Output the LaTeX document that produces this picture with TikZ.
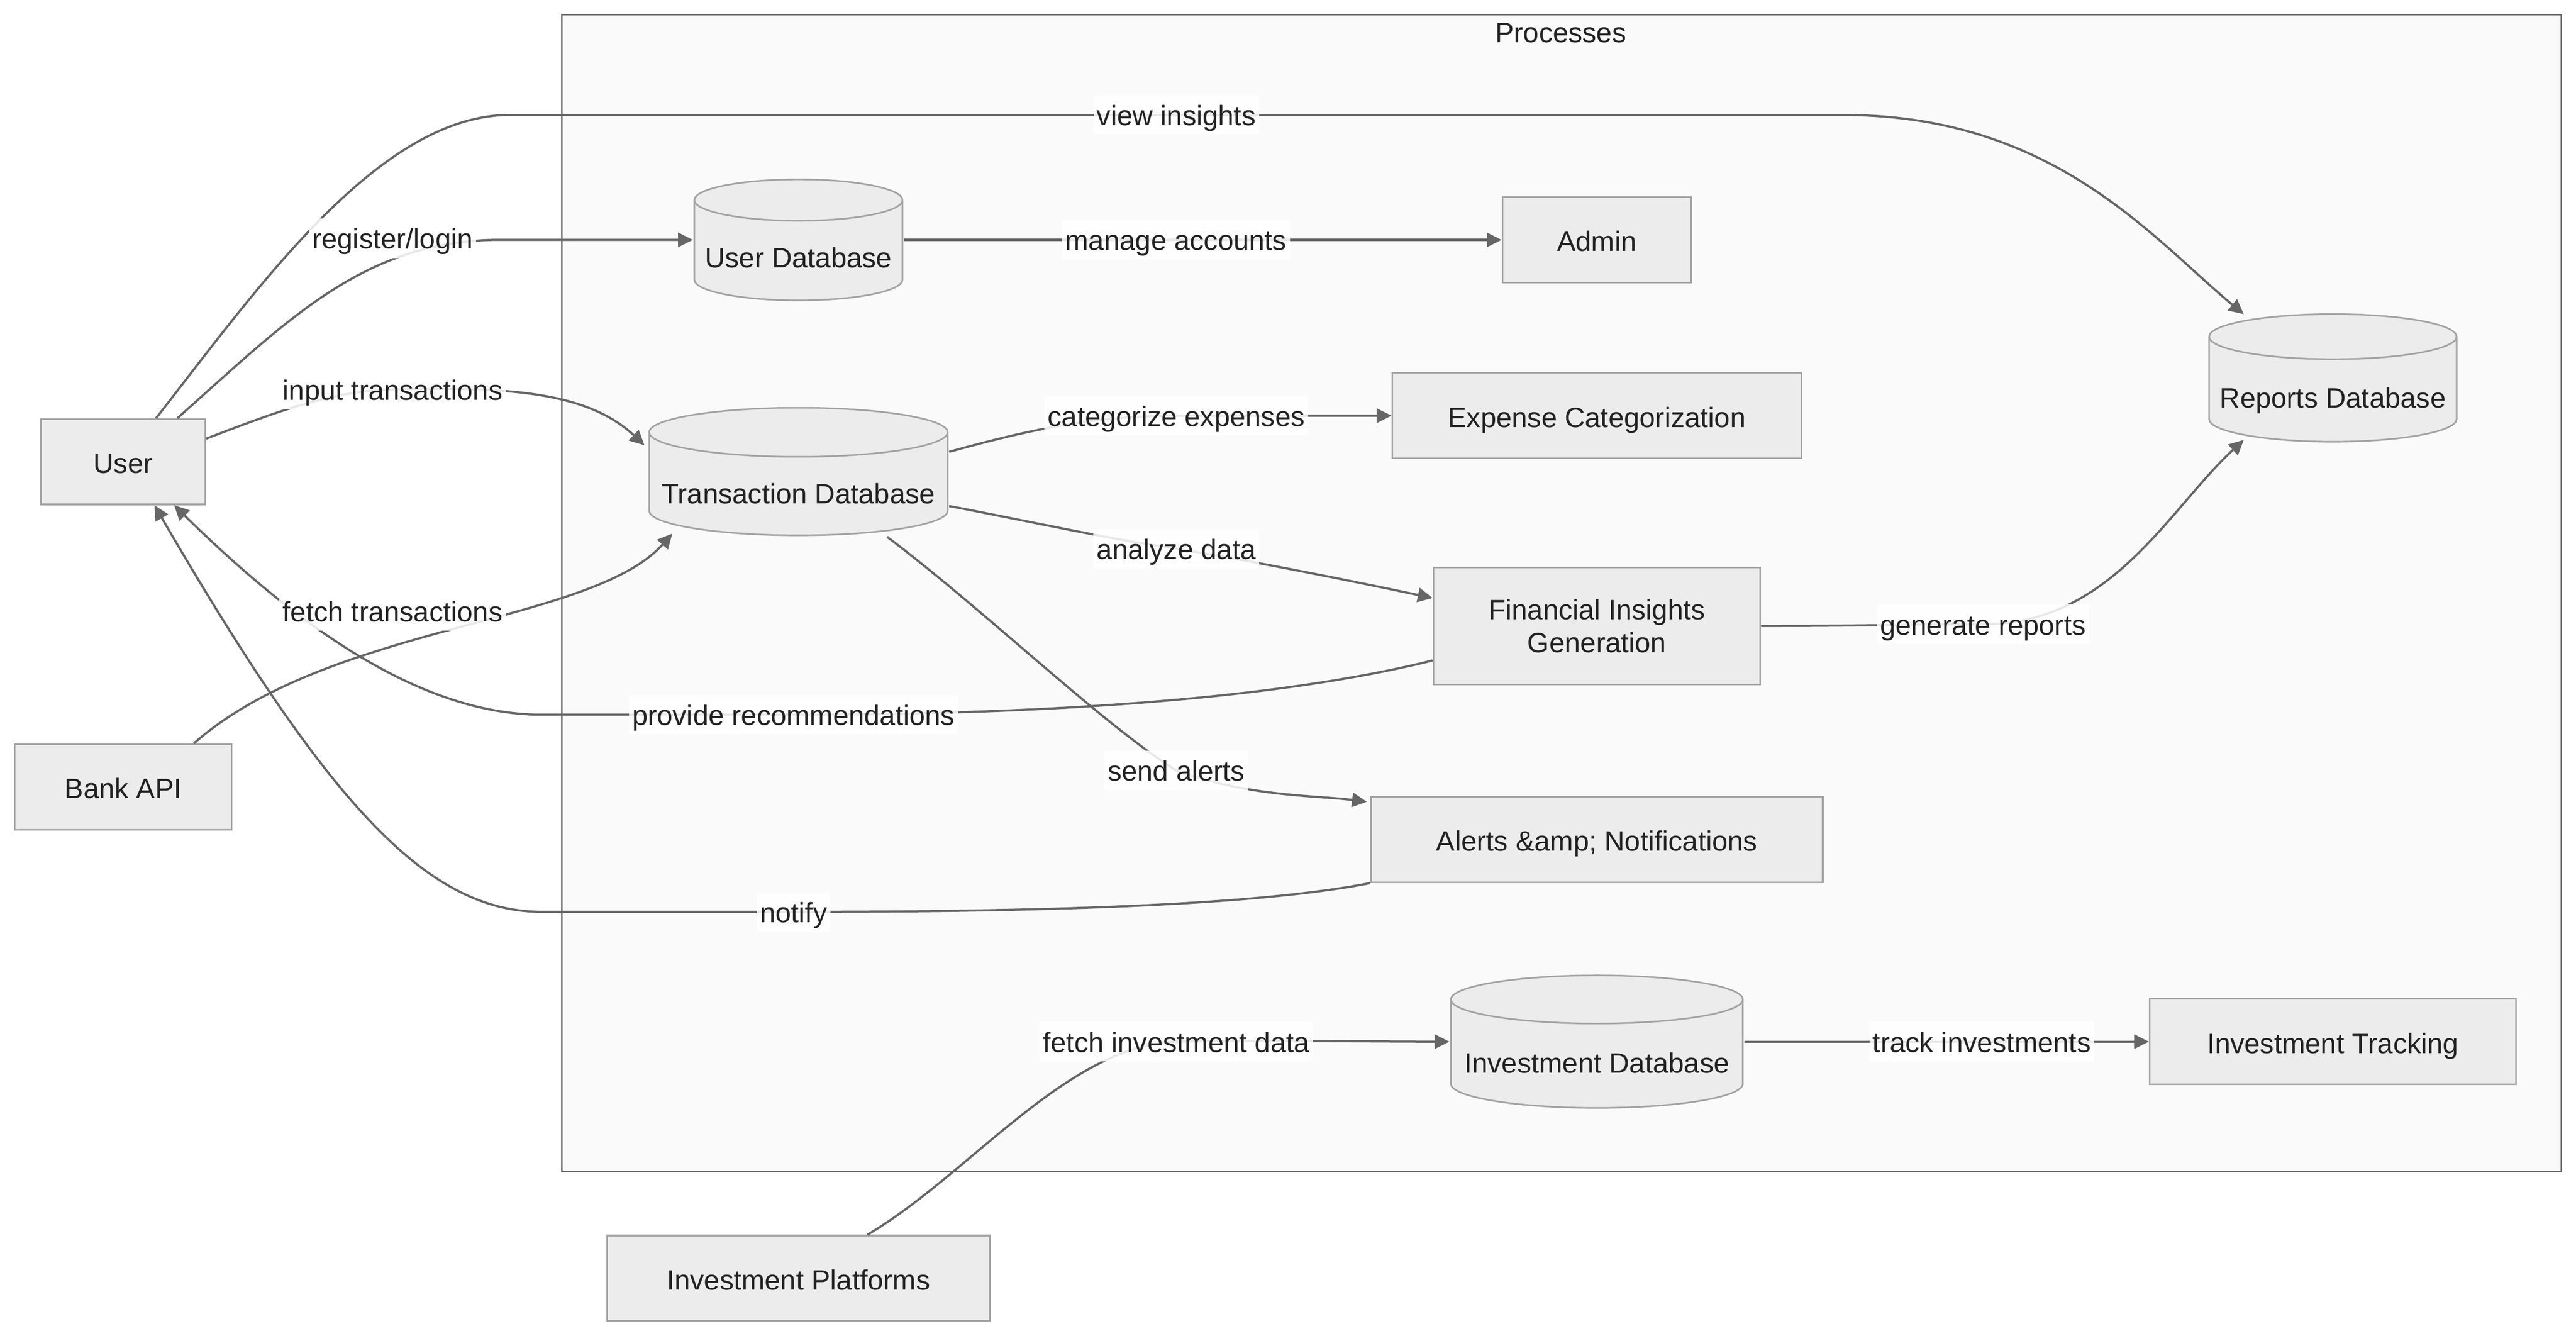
\documentclass[tikz,border=0pt]{standalone}
\usepackage{fontspec}
\setmainfont{Liberation Sans}
\usetikzlibrary{positioning,arrows.meta,calc}

\definecolor{boxfill}{HTML}{ECECEC}
\definecolor{boxline}{HTML}{A3A3A3}
\definecolor{edgeline}{HTML}{666666}
\definecolor{groupfill}{HTML}{FAFAFA}
\definecolor{groupline}{HTML}{6E6E6E}
\definecolor{txt}{HTML}{222222}

\begin{document}
\begin{tikzpicture}[x=0.75pt,y=-0.75pt,on grid,font=\fontsize{12.8pt}{15pt}\selectfont,
    boxbase/.style={draw=boxline,fill=boxfill,line width=0.75pt,minimum height=39pt,text=txt},
    box/.style={boxbase,text height=11pt,text depth=0.5pt},
    db/.style={text=txt,text depth=2.7pt,path picture={
        \filldraw[fill=boxfill,draw=boxline,line width=0.75pt]
          let \p1=(path picture bounding box.south west),
              \p2=(path picture bounding box.north east) in
          (\x1+0.5pt,\y2-#1-0.5pt) -- (\x1+0.5pt,\y1+#1+0.5pt)
          arc[start angle=180,end angle=360,x radius={(\x2-\x1)/2-0.5pt},y radius=#1]
          -- (\x2-0.5pt,\y2-#1-0.5pt)
          arc[start angle=0,end angle=180,x radius={(\x2-\x1)/2-0.5pt},y radius=#1]
          -- cycle
          (\x1+0.5pt,\y2-#1-0.5pt)
          arc[start angle=180,end angle=360,x radius={(\x2-\x1)/2-0.5pt},y radius=#1];}},
    flow/.style={draw=edgeline,line width=1pt,-{Triangle[length=6.75pt,width=6.5pt]}},
    lbl/.style={fill=white,fill opacity=0.85,text opacity=1,text=txt,inner sep=1.5pt,
        text height=12.3pt,text depth=2.7pt}]

    \useasboundingbox (0,0) rectangle (1568,813);

    % the Processes group
    \draw[draw=groupline,fill=groupfill,line width=0.75pt] (342,9) rectangle (1559,713);
    \node[text=txt] (proc) at (950,20) {Processes};

    % outside
    \node[box,minimum width=75pt] (user) at (75,281) {User};
    \node[box,minimum width=99pt] (bankapi) [below=148.5pt of user] {Bank API};

    % inside
    \node[db=9.45pt,minimum width=96pt,minimum height=56.25pt,text height=28.3pt] (userdb) at (486,146) {User Database};
    \node[db=11.2pt,minimum width=137.25pt,minimum height=59.25pt,text height=31.8pt] (transdb) [below=105.75pt of userdb] {Transaction Database};
    \node[box,minimum width=174.75pt] (invplat) [below=368.25pt of transdb] {Investment Platforms};
    \node[box,minimum width=86.25pt] (admin) [right=364.5pt of userdb] {Admin};
    \node[box,minimum width=186.75pt] (expense) [below=80.25pt of admin] {Expense Categorization};
    \node[boxbase,minimum width=149.25pt,minimum height=53.25pt,align=center] (fininsight) [below=96pt of expense] {Financial Insights\\Generation};
    \node[box,minimum width=206.25pt] (alerts) [below=97.5pt of fininsight] {Alerts \&amp; Notifications};
    \node[db=11pt,minimum width=134.25pt,minimum height=61.5pt,text height=31.4pt] (invdb) [below=92.25pt of alerts] {Investment Database};
    \node[box,minimum width=167.25pt] (invtrack) [right=336pt of invdb] {Investment Tracking};
    \node[db=10.3pt,minimum width=114pt,minimum height=59.25pt,text height=30pt] (reportsdb) [above=303pt of invtrack] {Reports Database};

    % connectors
    \draw[flow] (alerts.south west) .. controls (760,552) and (620,555) .. (483,555) node[lbl] {notify}
        -- (330,555) .. controls (260,555) and (200,490) .. ([shift={(19,0)}]user.south);
    \draw[flow] ([shift={(0,21)}]fininsight.west) .. controls (780,425) and (640,435) .. (483,435) node[lbl] {provide recommendations}
        -- (330,435) .. controls (270,435) and (200,400) .. ([shift={(31,0)}]user.south);
    \draw[flow] ([shift={(20,0)}]user.north) .. controls (155,178) and (230,70) .. (310,70)
        -- node[lbl] {view insights} (1122,70)
        .. controls (1250,70) and (1310,145) .. ([shift={(22,1)}]reportsdb.north west);
    \draw[flow] ([shift={(33,0)}]user.north) .. controls (175,195) and (220,148) .. (300,146)
        node[lbl] at (239,145) {register/login} -- (userdb.west);
    \draw[flow] ([shift={(0,-14)}]user.east) .. controls (165,252) and (200,238) .. (239,237) node[lbl] {input transactions}
        .. controls (300,236) and (355,236) .. ([shift={(-2,-16)}]transdb.west);
    \draw[flow] ([shift={(43,0)}]bankapi.north) .. controls (200,380) and (360,380) .. ([shift={(15,-2)}]transdb.south west)
        node[lbl] at (239,372) {fetch transactions};
    \draw[flow] (userdb.east) -- node[lbl,pos=0.455] {manage accounts} (admin.west);
    \draw[flow] ([shift={(0,-12)}]transdb.east) .. controls (625,262) and (665,253) .. (716,253) node[lbl] {categorize expenses}
        -- (expense.west);
    \draw[flow] ([shift={(0,21)}]transdb.east) .. controls (630,318) and (675,328) .. (716,334) node[lbl] {analyze data}
        .. controls (760,341) and (820,353) .. ([shift={(0,-17)}]fininsight.west);
    \draw[flow] ([shift={(54,0)}]transdb.south) .. controls (600,372) and (670,440) .. (716,469) node[lbl] {send alerts}
        .. controls (760,485) and (800,484) .. ([shift={(-2,-23)}]alerts.west);
    \draw[flow] (fininsight.east) .. controls (1130,381) and (1160,380) .. (1207,380) node[lbl] {generate reports}
        .. controls (1285,380) and (1320,310) .. ([shift={(22,-2)}]reportsdb.south west);
    \draw[flow] ([shift={(42,0)}]invplat.north) .. controls (590,715) and (650,636) .. (716,634) node[lbl] {fetch investment data}
        .. controls (780,633) and (830,634) .. (invdb.west);
    \draw[flow] (invdb.east) -- node[lbl,pos=0.587] {track investments} (invtrack.west);

\end{tikzpicture}
\end{document}
